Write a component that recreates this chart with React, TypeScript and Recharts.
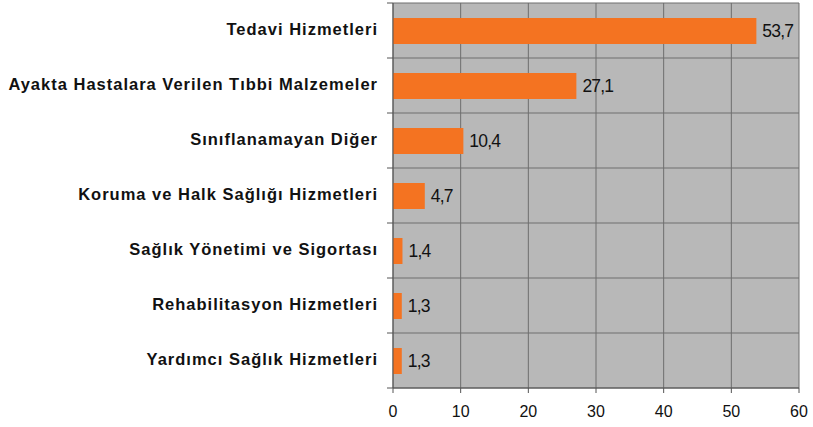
import React from "react";
import { BarChart, Bar, XAxis, YAxis, CartesianGrid, LabelList } from "recharts";

const categories = [
  "Tedavi Hizmetleri",
  "Ayakta Hastalara Verilen Tıbbi Malzemeler",
  "Sınıflanamayan Diğer",
  "Koruma ve Halk Sağlığı Hizmetleri",
  "Sağlık Yönetimi ve Sigortası",
  "Rehabilitasyon Hizmetleri",
  "Yardımcı Sağlık Hizmetleri",
];
const values = [53.7, 27.1, 10.4, 4.7, 1.4, 1.3, 1.3];
const xTicks = [0, 10, 20, 30, 40, 50, 60];

const data = categories.map((name, i) => ({ name, value: values[i] }));

const W = 813;
const H = 427;
const MARGIN = { top: 3, right: 14, bottom: 0, left: 0 };
const X_AXIS_H = 39;
const BAND = (H - MARGIN.top - MARGIN.bottom - X_AXIS_H) / categories.length;
const FONT = "Liberation Sans, Arial, sans-serif";

const YTick = (props: any) => {
  const { x, y, payload, index } = props;
  const axisX = x + 8;
  return (
    <g>
      {index === 0 && (
        <line x1={axisX - 6} x2={axisX} y1={y - BAND / 2} y2={y - BAND / 2} stroke="#555" />
      )}
      <line x1={axisX - 6} x2={axisX} y1={y + BAND / 2} y2={y + BAND / 2} stroke="#555" />
      <text
        x={axisX - 15}
        y={y - 1}
        dy="0.33em"
        textAnchor="end"
        fill="#111"
        fontSize={16.5}
        fontWeight="bold"
        letterSpacing={1}
        fontFamily={FONT}
      >
        {payload.value}
      </text>
    </g>
  );
};

export default function App() {
  return (
    <div style={{ position: "absolute", left: 0, top: 0, width: W, height: H, background: "#fff" }}>
      <BarChart
        width={W}
        height={H}
        data={data}
        layout="vertical"
        margin={MARGIN}
        barCategoryGap={0}
      >
        <CartesianGrid
          stroke="#6e6e6e"
          strokeWidth={1}
          fill="#b8b8b8"
          fillOpacity={1}
          horizontalCoordinatesGenerator={({ offset }: any) => {
            const n = categories.length;
            const out: number[] = [];
            for (let i = 0; i <= n; i++) out.push(offset.top + (i * offset.height) / n);
            return out;
          }}
        />
        <XAxis
          type="number"
          domain={[0, 60]}
          ticks={xTicks}
          interval={0}
          height={X_AXIS_H}
          tickSize={5}
          tickMargin={13}
          stroke="#555"
          tick={{ fill: "#111", fontSize: 16, fontFamily: FONT }}
        />
        <YAxis
          type="category"
          dataKey="name"
          width={393}
          interval={0}
          tickSize={6}
          tickLine={false}
          stroke="#555"
          tick={<YTick />}
        />
        <Bar dataKey="value" fill="#f47321" barSize={26} isAnimationActive={false}>
          <LabelList
            dataKey="value"
            position="right"
            offset={6}
            formatter={(v: any) => String(v).replace(".", ",")}
            style={{ fill: "#111", fontSize: 17.5, letterSpacing: -0.8, fontFamily: FONT }}
          />
        </Bar>
      </BarChart>
    </div>
  );
}
